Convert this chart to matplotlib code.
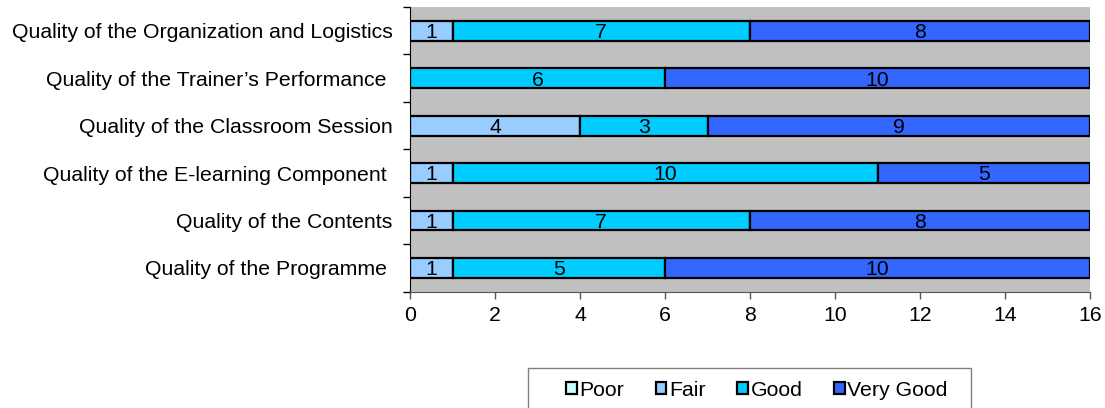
import matplotlib
matplotlib.use("Agg")
import matplotlib.pyplot as plt
import numpy as np
from matplotlib.patches import Rectangle

plt.rcParams["font.family"] = ["Liberation Sans", "DejaVu Sans"]

# categories from bottom to top, as drawn
categories = [
    "Quality of the Programme ",
    "Quality of the Contents",
    "Quality of the E-learning Component ",
    "Quality of the Classroom Session",
    "Quality of the Trainer\u2019s Performance ",
    "Quality of the Organization and Logistics",
]
series_names = ["Poor", "Fair", "Good", "Very Good"]
poor = [0, 0, 0, 0, 0, 0]
fair = [1, 1, 1, 4, 0, 1]
good = [5, 7, 10, 3, 6, 7]
very_good = [10, 8, 5, 9, 10, 8]
colors = ["#CCFFFF", "#99CCFF", "#00CCFF", "#3366FF"]

FS = 15.3

fig = plt.figure(figsize=(11.05, 4.08), dpi=100)
ax = fig.add_axes([410 / 1105, 1 - 291.7 / 408, 680 / 1105, 284.7 / 408])
ax.set_facecolor("#C0C0C0")

y = np.arange(len(categories))
left = np.zeros(len(categories))
for name, vals, col in zip(series_names, [poor, fair, good, very_good], colors):
    vals = np.array(vals, dtype=float)
    ax.barh(y, vals, left=left, height=0.42, color=col, edgecolor="black",
            linewidth=1.6, label=name)
    for yi, l, v in zip(y, left, vals):
        if v > 0:
            ax.text(l + v / 2, yi - 0.04, f"{int(v)}", ha="center", va="center",
                    fontsize=FS)
    left += vals

ax.set_xlim(0, 16)
ax.set_ylim(-0.5, len(categories) - 0.5)
ax.set_xticks(range(0, 17, 2))
ax.set_yticks(y)
ax.set_yticklabels(categories, fontsize=FS)
ax.set_yticks(np.arange(-0.5, len(categories), 1.0), minor=True)
ax.tick_params(axis="y", which="major", length=0, pad=12.5)
ax.tick_params(axis="y", which="minor", length=5, width=1, color="black")
ax.tick_params(axis="x", length=5, width=1, color="#555555", labelsize=FS, pad=5)
for s in ("top", "right"):
    ax.spines[s].set_visible(False)
ax.spines["left"].set_color("black")
ax.spines["bottom"].set_color("#555555")

# legend box drawn by hand, border runs off the bottom edge
fig.patches.append(Rectangle((528 / 1105, -0.05), 443 / 1105, 1 - 368 / 408 + 0.05,
                             transform=fig.transFigure, facecolor="white",
                             edgecolor="#808080", linewidth=1))
handles, labels = ax.get_legend_handles_labels()
leg = fig.legend(handles, labels, loc="center left",
                 bbox_to_anchor=(566 / 1105, 1 - 390 / 408), ncol=4,
                 frameon=False, fontsize=FS, handlelength=0.5, handleheight=0.5,
                 handletextpad=0.12, columnspacing=1.5, borderpad=0,
                 borderaxespad=0)

fig.savefig("out.png", dpi=100)
